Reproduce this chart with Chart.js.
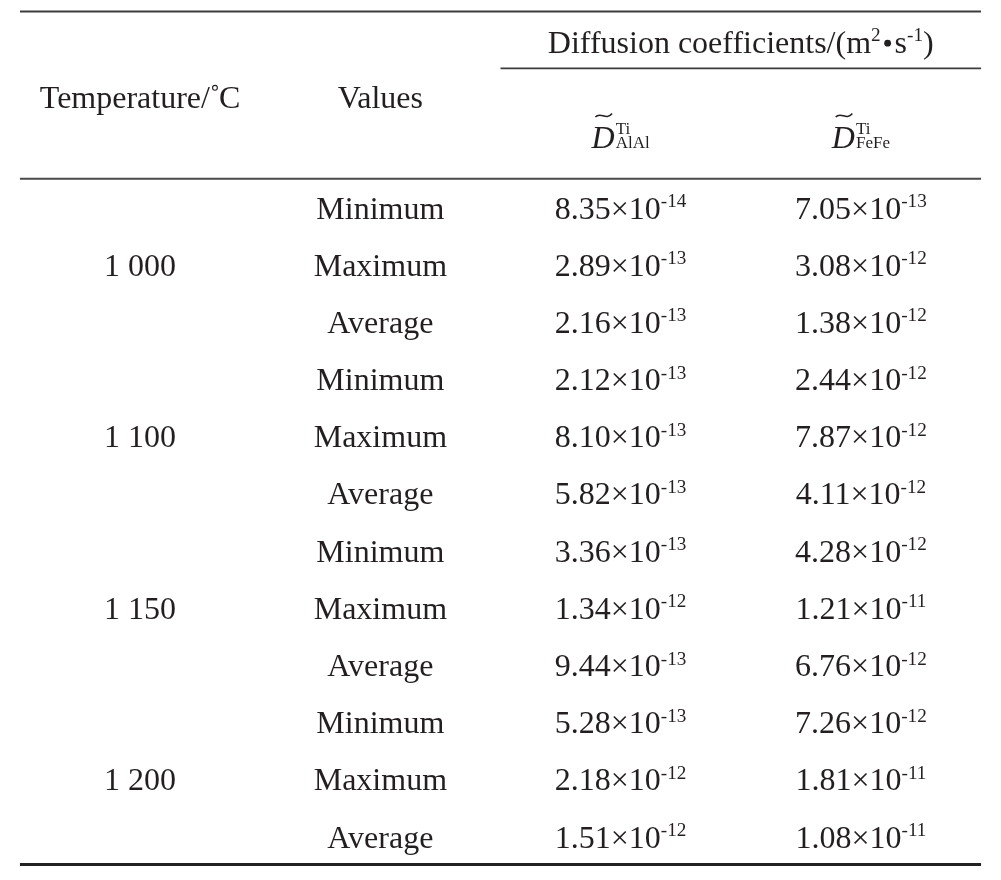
<!DOCTYPE html>
<html>
<head>
<meta charset="utf-8">
<script src="https://cdn.jsdelivr.net/npm/chart.js@4.4.0/dist/chart.umd.min.js"></script>
<style>
  html, body { margin: 0; padding: 0; background: #fff; }
  canvas { display: block; }
</style>
</head>
<body>
<canvas id="table" width="1001" height="880"></canvas>
<script>
// table content
var temperatures = ['1 000', '1 100', '1 150', '1 200'];
var valueNames = ['Minimum', 'Maximum', 'Average'];
var dAlAl = [8.35e-14, 2.89e-13, 2.16e-13, 2.12e-13, 8.10e-13, 5.82e-13,
             3.36e-13, 1.34e-12, 9.44e-13, 5.28e-13, 2.18e-12, 1.51e-12];
var dFeFe = [7.05e-13, 3.08e-12, 1.38e-12, 2.44e-12, 7.87e-12, 4.11e-12,
             4.28e-12, 1.21e-11, 6.76e-12, 7.26e-12, 1.81e-11, 1.08e-11];
var headValues = 'Values';

// layout, in column / row units of the two hidden scales
var FONT = '"Liberation Serif", "Times New Roman", serif';
var SIZE = 32;
var INK = '#231f20';
var ROW_GROUP_HEAD = -2.9, ROW_HEAD = -1.94, ROW_SYMBOL = -1.24;
var RULE_TOP = -3.437, RULE_SUB = -2.443, RULE_MID = -0.512, RULE_BOTTOM = 11.481;

function sci(v) {
  var s = v.toExponential(2).split('e');
  return [{ t: s[0] + '\u00d710' }, { t: String(parseInt(s[1], 10)), sup: true }];
}

function cell(x, y, parts) {
  return { x: x, y: y, parts: typeof parts === 'string' ? [{ t: parts }] : parts };
}

var cells = [];
cells.push(cell(2.5, ROW_GROUP_HEAD, [
  { t: 'Diffusion coefficients/(m' }, { t: '2', sup: true },
  { dot: true }, { t: 's' }, { t: '-1', sup: true }, { t: ')' }
]));
// Temperature/℃, the degree ring drawn small as in the reference
cells.push(cell(0, ROW_HEAD, [{ t: 'Temperature/' }, { ring: true }, { t: 'C' }]));
cells.push(cell(1, ROW_HEAD, headValues));
cells.push(cell(2, ROW_SYMBOL, [{ t: 'D', italic: true, tilde: true }, { stack: true, sup: 'Ti', sub: 'AlAl' }]));
cells.push(cell(3, ROW_SYMBOL, [{ t: 'D', italic: true, tilde: true }, { stack: true, sup: 'Ti', sub: 'FeFe' }]));
temperatures.forEach(function(t, g) {
  cells.push(cell(0, g * 3 + 1, t));
});
dAlAl.forEach(function(v, i) {
  cells.push(cell(1, i, valueNames[i % 3]));
  cells.push(cell(2, i, sci(v)));
  cells.push(cell(3, i, sci(dFeFe[i])));
});

function rule(y, x0, width, color) {
  return {
    type: 'line', data: [{ x: x0, y: y }, { x: 3.5, y: y }],
    borderColor: color, borderWidth: width, pointRadius: 0, fill: false
  };
}

function partFont(p) {
  if (p.stack) return '17px ' + FONT;
  if (p.sup) return (SIZE * 0.6) + 'px ' + FONT;
  return (p.italic ? 'italic ' : '') + SIZE + 'px ' + FONT;
}

function partWidth(ctx, p) {
  if (p.dot) return 14;
  if (p.ring) return 9;
  ctx.font = partFont(p);
  if (p.stack) return Math.max(ctx.measureText(p.sup).width, ctx.measureText(p.sub).width);
  var w = ctx.measureText(p.t).width;
  if (p.italic) w += 1;
  return w;
}

function drawRich(ctx, parts, cx, cy) {
  var total = 0;
  parts.forEach(function(p) { total += partWidth(ctx, p); });
  var x = cx - total / 2;
  var base = cy + SIZE * 0.33;
  ctx.fillStyle = INK;
  ctx.strokeStyle = INK;
  ctx.textBaseline = 'alphabetic';
  ctx.textAlign = 'left';
  parts.forEach(function(p) {
    var w = partWidth(ctx, p);
    ctx.font = partFont(p);
    if (p.dot) {
      ctx.beginPath();
      ctx.arc(x + w / 2, base - SIZE * 0.3, 3.4, 0, Math.PI * 2);
      ctx.fill();
    } else if (p.ring) {
      ctx.lineWidth = 1.1;
      ctx.beginPath();
      ctx.arc(x + 5, base - SIZE * 0.62, 2.4, 0, Math.PI * 2);
      ctx.stroke();
    } else if (p.stack) {
      ctx.fillText(p.sup, x, base - SIZE * 0.42);
      ctx.fillText(p.sub, x, base);
    } else if (p.sup) {
      ctx.fillText(p.t, x, base - SIZE * 0.36);
    } else {
      ctx.fillText(p.t, x, base);
    }
    if (p.tilde) {
      var tx = x + SIZE * 0.12, ty = base - SIZE * 1.02, tw = SIZE * 0.52;
      ctx.lineWidth = 1.4;
      ctx.beginPath();
      ctx.moveTo(tx, ty + 2);
      ctx.bezierCurveTo(tx + tw * 0.3, ty - 4, tx + tw * 0.65, ty + 6, tx + tw, ty - 1.5);
      ctx.stroke();
    }
    x += w;
  });
}

var cellText = {
  id: 'cellText',
  afterDatasetsDraw: function(chart) {
    var ctx = chart.ctx;
    chart.data.datasets.forEach(function(ds, i) {
      if (!ds.textCells) return;
      chart.getDatasetMeta(i).data.forEach(function(el, j) {
        drawRich(ctx, ds.data[j].parts, el.x, el.y);
      });
    });
  }
};

new Chart(document.getElementById('table'), {
  type: 'scatter',
  data: {
    datasets: [
      rule(RULE_TOP, -0.5, 2, '#3c3c3c'),
      rule(RULE_SUB, 1.5, 1.6, '#3c3c3c'),
      rule(RULE_MID, -0.5, 2, '#4a4a4a'),
      rule(RULE_BOTTOM, -0.5, 3, '#222222'),
      { data: cells, textCells: true, pointRadius: 0, pointHoverRadius: 0 }
    ]
  },
  options: {
    responsive: false,
    animation: false,
    events: [],
    layout: { padding: 0 },
    plugins: { legend: { display: false }, tooltip: { enabled: false } },
    scales: {
      x: { type: 'linear', display: false, min: -0.583, max: 3.583 },
      y: { type: 'linear', display: false, reverse: true, min: -3.638, max: 11.752 }
    }
  },
  plugins: [cellText]
});
</script>
</body>
</html>
